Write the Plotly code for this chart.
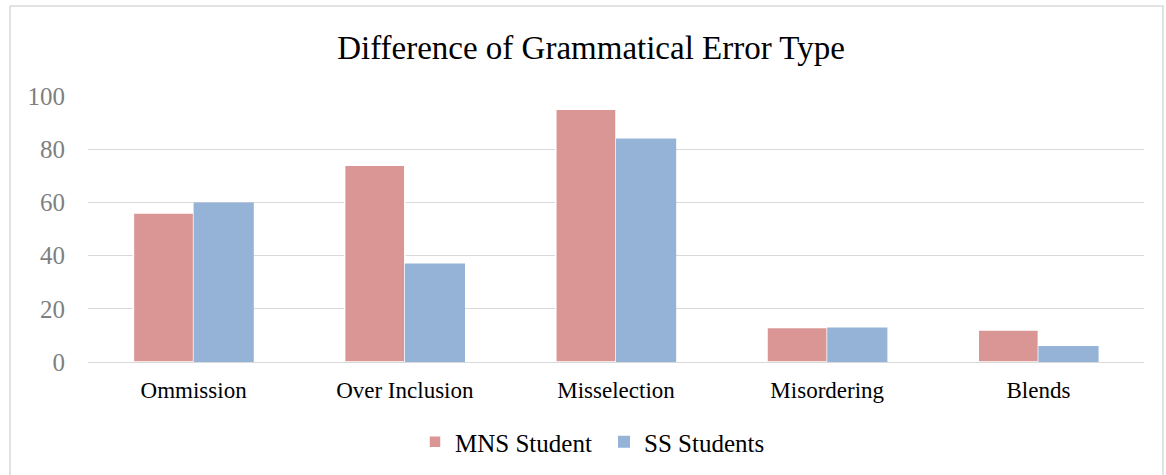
import plotly.graph_objects as go

categories = ["Ommission", "Over Inclusion", "Misselection", "Misordering", "Blends"]
mns_student = [56, 74, 95, 13, 12]
ss_students = [60, 37, 84, 13, 6]
y_ticks = [0, 20, 40, 60, 80, 100]

W, H = 1166, 475
L, R, T, B = 88, 1144, 96, 362

def px(p):
    return (p - L) / (R - L)

def py(q):
    return (B - q) / (B - T)

fig = go.Figure()
fig.add_trace(go.Bar(name="MNS Student", x=categories, y=mns_student,
                     marker=dict(color="#D99694", line=dict(color="white", width=1.5))))
fig.add_trace(go.Bar(name="SS Students", x=categories, y=ss_students,
                     marker=dict(color="#95B3D7", line=dict(color="white", width=0))))

fig.update_layout(
    width=W, height=H,
    margin=dict(l=L, r=W - R, t=T, b=H - B, autoexpand=False),
    paper_bgcolor="white", plot_bgcolor="white",
    barmode="group", bargap=0.43, bargroupgap=0,
    title=dict(text="Difference of Grammatical Error Type", x=591 / W, xanchor="center",
               y=1 - 47 / H, yanchor="middle",
               font=dict(family="Liberation Serif", size=33, color="#000000")),
    font=dict(family="Liberation Serif"),
    xaxis=dict(tickfont=dict(family="Liberation Serif", size=23, color="#000000"),
               showline=False, ticks="", showgrid=False, ticklabelstandoff=12),
    yaxis=dict(range=[0, 100], tickvals=y_ticks, showgrid=True, gridcolor="#D9D9D9",
               gridwidth=1.2, zeroline=True, zerolinecolor="#D9D9D9", zerolinewidth=1.2,
               tickfont=dict(family="Liberation Serif", size=25, color="#7F7F7F"),
               ticks="", ticklabelstandoff=22),
    legend=dict(orientation="h", x=604 / W, xref="container", xanchor="center",
                y=1 - 442 / H, yref="container", yanchor="middle",
                font=dict(family="Liberation Serif", size=25, color="#000000"),
                itemwidth=30, traceorder="normal", entrywidth=144),
    showlegend=True,
)

fig.add_shape(type="rect", xref="paper", yref="paper",
              x0=px(10), x1=px(1163), y0=py(500), y1=py(6),
              line=dict(color="#D9D9D9", width=1.5), fillcolor="rgba(0,0,0,0)", layer="below")

fig.write_html("out.html", config={"displayModeBar": False},
               post_script="document.body.style.margin='0';document.body.style.padding='0';")
